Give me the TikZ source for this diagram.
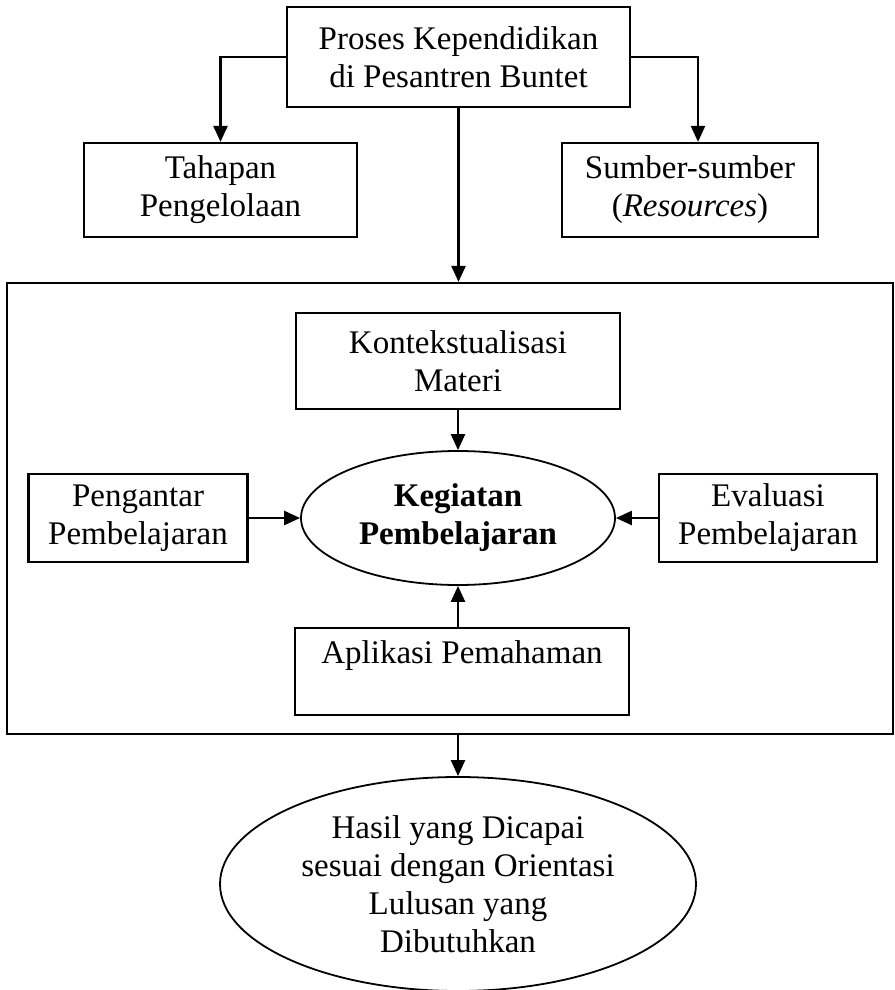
\documentclass[tikz,border=0pt]{standalone}
\usepackage{fontspec}
\setmainfont{Liberation Serif}
\usetikzlibrary{shapes, positioning, arrows.meta}

\begin{document}
\begin{tikzpicture}[x=1pt, y=-1pt,
  box/.style={draw, line width=2.2pt, inner sep=0pt, align=center,
    font=\fontsize{33}{38}\selectfont},
  oval/.style={box, ellipse, line width=1.8pt},
  arr/.style={line width=2.4pt, -{Triangle[length=16pt,width=14pt]}}]

\useasboundingbox (0,0) rectangle (894,990);

% top level
\node[box, minimum width=343, minimum height=100] (proses) at (458.5,57)
  {Proses Kependidikan\\di Pesantren Buntet};
\node[box, minimum width=273, minimum height=94] (tahapan) at (220.5,190)
  {Tahapan\\Pengelolaan};
\node[box, minimum width=256, minimum height=94] (sumber) at (690,190)
  {Sumber-sumber\\(\textit{Resources})};

%% frame of the learning activity
\node[box, minimum width=886, minimum height=451] (frame) at (450,508.5) {};

% inside the frame
\node[box, minimum width=324, minimum height=96] (konteks) at (458,361)
  {Kontekstualisasi\\Materi};
\node[oval, minimum width=314, minimum height=134] (kegiatan) at (458,518)
  {\textbf{Kegiatan}\\\textbf{Pembelajaran}};
\node[box, minimum width=219, minimum height=88] (pengantar) at (138,518)
  {Pengantar\\Pembelajaran};
\node[box, minimum width=218, minimum height=88] (evaluasi) at (768,518)
  {Evaluasi\\Pembelajaran};
\node[box, minimum width=334, minimum height=87] (aplikasi) at (462,671.5)
  {Aplikasi Pemahaman\\\phantom{A}};

% result
\node[oval, minimum width=476, minimum height=214, text depth=-30pt] (hasil) at (458,884)
  {Hasil yang Dicapai\\sesuai dengan Orientasi\\Lulusan yang\\Dibutuhkan};

%% arrows
\draw[arr] (proses.west) -| (tahapan.north);
\draw[arr] (proses.east) -| ([xshift=8pt]sumber.north);
\draw[arr] (proses.south) -- (proses.south |- frame.north);
\draw[arr] (konteks.south) -- (kegiatan.north);
\draw[arr] (pengantar.east) -- (kegiatan.west);
\draw[arr] (evaluasi.west) -- (kegiatan.east);
\draw[arr] (kegiatan.south |- aplikasi.north) -- (kegiatan.south);
\draw[arr] (kegiatan.south |- frame.south) -- (hasil.north);

\end{tikzpicture}
\end{document}
